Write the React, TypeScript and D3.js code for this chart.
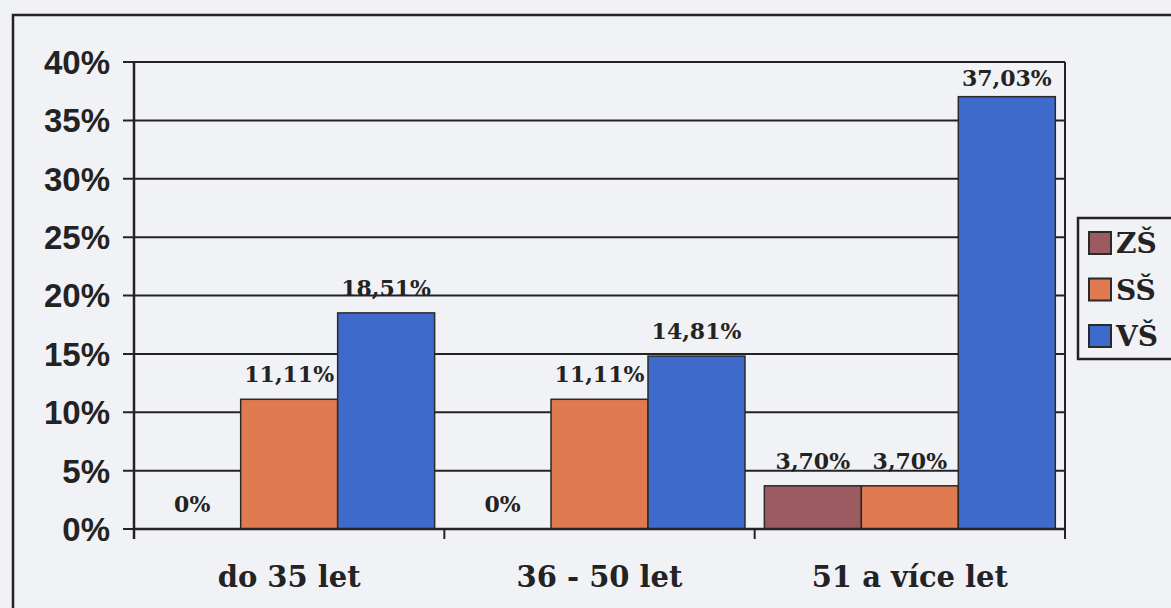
import React from 'react';
import * as d3 from 'd3';

const categories = ['do 35 let', '36 - 50 let', '51 a více let'];
const series = ['ZŠ', 'SŠ', 'VŠ'];
const zsValues = [0, 0, 3.7];
const ssValues = [11.11, 11.11, 3.7];
const vsValues = [18.51, 14.81, 37.03];
const valueLabels = [
  ['0%', '11,11%', '18,51%'],
  ['0%', '11,11%', '14,81%'],
  ['3,70%', '3,70%', '37,03%'],
];
const yTicks = [0, 5, 10, 15, 20, 25, 30, 35, 40];
const colors = ['#9c5a61', '#e07a51', '#3e6bcb'];

const W = 1171;
const H = 608;
const plot = { left: 134, right: 1065, top: 62, bottom: 529 };

const App: React.FC = () => {
  const values = [zsValues, ssValues, vsValues];

  const x0 = d3.scaleBand().domain(categories).range([plot.left, plot.right]).paddingInner(0).paddingOuter(0);
  const x1 = d3.scaleBand().domain(series).range([0, x0.bandwidth()]).paddingInner(0).paddingOuter(0.1);
  const y = d3.scaleLinear().domain([0, 40]).range([plot.bottom, plot.top]);

  const sans = "'Liberation Sans', Arial, sans-serif";
  const serif = "'DejaVu Serif', serif";
  const ink = '#232323';

  const boundaries = [...categories.map(c => x0(c) || 0), plot.right];

  return (
    <svg width={W} height={H} style={{ position: 'absolute', left: 0, top: 0 }}>
      <rect x={0} y={0} width={W} height={H} fill="#f1f2f6" />
      <rect x={13} y={15} width={1300} height={800} fill="none" stroke={ink} strokeWidth={2.5} />

      {/* gridlines */}
      {yTicks.map(t => (
        <line key={t} x1={plot.left - 11} x2={plot.right} y1={y(t)} y2={y(t)} stroke={ink} strokeWidth={2} />
      ))}
      <line x1={plot.right} x2={plot.right} y1={plot.top} y2={plot.bottom + 10} stroke={ink} strokeWidth={2} />

      {/* bars */}
      {categories.map((c, ci) => (
        <g key={c} transform={`translate(${x0(c)},0)`}>
          {series.map((s, si) => {
            const v = values[si][ci];
            if (v <= 0) return null;
            return (
              <rect key={s} x={x1(s)} y={y(v)} width={x1.bandwidth()} height={plot.bottom - y(v)}
                fill={colors[si]} stroke="#2a2a2a" strokeWidth={1.5} />
            );
          })}
        </g>
      ))}

      {/* axes */}
      <line x1={plot.left} x2={plot.left} y1={plot.top} y2={plot.bottom + 10} stroke={ink} strokeWidth={2.5} />
      <line x1={plot.left} x2={plot.right} y1={plot.bottom} y2={plot.bottom} stroke={ink} strokeWidth={2.5} />
      {boundaries.map((b, i) => (
        <line key={i} x1={b} x2={b} y1={plot.bottom} y2={plot.bottom + 10} stroke={ink} strokeWidth={2} />
      ))}

      {yTicks.map(t => (
        <text key={t} x={110} y={y(t)} dy="0.36em" textAnchor="end" fontFamily={sans} fontWeight="bold"
          fontSize={33} fill={ink}>{`${t}%`}</text>
      ))}

      {categories.map(c => (
        <text key={c} x={(x0(c) || 0) + x0.bandwidth() / 2} y={587} textAnchor="middle" fontFamily={serif}
          fontWeight="bold" fontSize={29} fill={ink}>{c}</text>
      ))}

      {/* value labels */}
      {categories.map((c, ci) => series.map((s, si) => {
        const v = values[si][ci];
        const cx = (x0(c) || 0) + (x1(s) || 0) + x1.bandwidth() / 2;
        const by = Math.max(y(v) - 17, plot.top + 24);
        return (
          <text key={c + s} x={cx} y={by} textAnchor="middle" fontFamily={serif} fontWeight="bold"
            fontSize={22} fill={ink}>{valueLabels[ci][si]}</text>
        );
      }))}

      {/* legend */}
      <rect x={1078} y={218} width={120} height={141} fill="#f1f2f6" stroke={ink} strokeWidth={2.5} />
      {series.map((s, i) => {
        const cy = 243 + i * 46.5;
        return (
          <g key={s}>
            <rect x={1089} y={cy - 11} width={22} height={22} fill={colors[i]} stroke="#2a2a2a" strokeWidth={2} />
            <text x={1116} y={cy} dy="0.36em" fontFamily={serif} fontWeight="bold" fontSize={28} fill={ink}>{s}</text>
          </g>
        );
      })}
    </svg>
  );
};

export default App;
